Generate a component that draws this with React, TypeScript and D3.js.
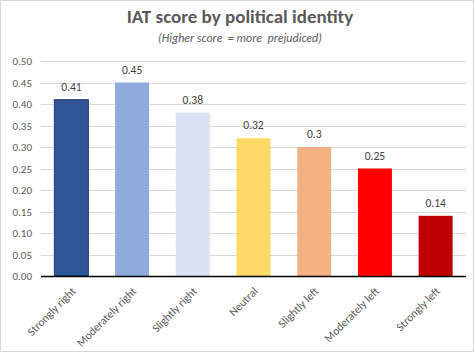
import * as d3 from 'd3';

const categories = [
  'Strongly right',
  'Moderately right',
  'Slightly right',
  'Neutral',
  'Slightly left',
  'Moderately left',
  'Strongly left',
];
const scores = [0.41, 0.45, 0.38, 0.32, 0.3, 0.25, 0.14];
const valueLabels = ['0.41', '0.45', '0.38', '0.32', '0.3', '0.25', '0.14'];
const barColors = ['#2F5597', '#8FAADC', '#DAE3F3', '#FFD966', '#F4B183', '#FF0000', '#C00000'];
const yTicks = [0, 0.05, 0.1, 0.15, 0.2, 0.25, 0.3, 0.35, 0.4, 0.45, 0.5];

const W = 474;
const H = 352;
const margin = {top: 61, right: 8, bottom: 76, left: 41};
const font = 'Carlito, "Liberation Sans", Arial, sans-serif';

const App = () => {
  const x = d3
    .scaleBand<string>()
    .domain(categories)
    .range([margin.left, W - margin.right])
    .paddingInner(0.44)
    .paddingOuter(0.22);

  const y = d3
    .scaleLinear()
    .domain([0, 0.5])
    .range([H - margin.bottom, margin.top]);

  return (
    <svg
      width={W}
      height={H}
      style={{position: 'absolute', left: 0, top: 0, background: '#fff'}}
      fontFamily={font}
    >
      <rect x={0.5} y={0.5} width={W - 1} height={H - 1} fill='#fff' stroke='#D9D9D9' />
      <text x={240} y={23} textAnchor='middle' fontSize={19} fontWeight='bold' fill='#595959'>
        IAT score by political identity
      </text>
      <text
        x={240}
        y={42}
        textAnchor='middle'
        fontSize={12}
        fontStyle='italic'
        fill='#595959'
        style={{whiteSpace: 'pre'}}
      >
        {'(Higher score  = more  prejudiced)'}
      </text>

      {yTicks.map((t) => (
        <g key={t}>
          {t > 0 && (
            <line
              x1={margin.left}
              x2={W - margin.right}
              y1={Math.round(y(t)) + 0.5}
              y2={Math.round(y(t)) + 0.5}
              stroke='#D9D9D9'
            />
          )}
          <text x={32} y={y(t) + 4} textAnchor='end' fontSize={11} fill='#595959'>
            {t.toFixed(2)}
          </text>
        </g>
      ))}

      {categories.map((c, i) => (
        <g key={c}>
          <rect
            x={x(c)!}
            y={y(scores[i])}
            width={x.bandwidth()}
            height={y(0) - y(scores[i])}
            fill={barColors[i]}
            stroke={i === 0 ? '#1F3864' : 'none'}
            strokeWidth={1}
          />
          <text
            x={x(c)! + x.bandwidth() / 2}
            y={y(scores[i]) - 9}
            textAnchor='middle'
            fontSize={11.5}
            fill='#404040'
          >
            {valueLabels[i]}
          </text>
          <text
            transform={`translate(${x(c)! + x.bandwidth() / 2 + 5},${y(0) + 16}) rotate(-45)`}
            textAnchor='end'
            fontSize={11.5}
            fill='#595959'
          >
            {c}
          </text>
        </g>
      ))}

      <line
        x1={margin.left}
        x2={W - margin.right}
        y1={Math.round(y(0)) + 0.5}
        y2={Math.round(y(0)) + 0.5}
        stroke='#000'
        strokeWidth={1.3}
      />
    </svg>
  );
};

export default App;
